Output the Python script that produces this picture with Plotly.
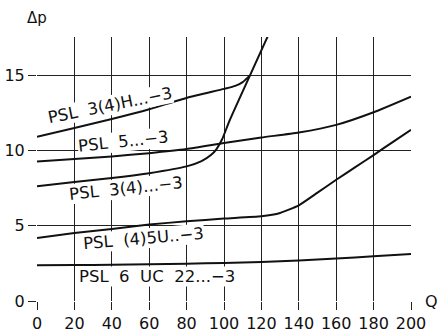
import plotly.graph_objects as go

# flow Q vs pressure drop curves
q_h = [0, 20, 40, 60, 80, 100, 106, 110, 113.9]
dp_h = [10.92, 11.5, 12.1, 12.75, 13.5, 14.1, 14.3, 14.55, 15.0]

q_5 = [0, 20, 40, 60, 80, 100, 120, 140, 160, 180, 200]
dp_5 = [9.28, 9.44, 9.61, 9.83, 10.1, 10.5, 10.87, 11.2, 11.71, 12.55, 13.59]

q_34 = [0, 20, 40, 60, 80, 88, 93, 96, 99, 103, 113.9, 124.5]
dp_34 = [7.62, 7.91, 8.17, 8.5, 8.95, 9.3, 9.7, 10.1, 10.75, 12.0, 15.0, 17.9]

q_45u = [0, 20, 40, 60, 80, 100, 120, 130, 140, 150, 160, 170, 180, 190, 200]
dp_45u = [4.19, 4.52, 4.79, 5.08, 5.3, 5.48, 5.63, 5.85, 6.36, 7.2, 8.06, 8.88, 9.7, 10.55, 11.38]

q_6uc = [0, 20, 40, 60, 80, 100, 120, 140, 160, 180, 200]
dp_6uc = [2.38, 2.39, 2.41, 2.44, 2.48, 2.53, 2.6, 2.69, 2.82, 2.97, 3.13]

labels = ["PSL  3(4)H...−3", "PSL  5...−3", "PSL  3(4)...−3", "PSL  (4)5U..−3", "PSL  6  UC  22...−3"]
label_q = [38.8, 46.2, 47.5, 57.1, 64.4]
label_dp = [13.0, 10.6, 7.47, 4.15, 1.62]
label_angle = [-11.5, -6, -6, -5, 0]

x_ticks = list(range(0, 201, 20))
y_ticks = [0, 5, 10, 15]

FONT = "DejaVu Sans"
INK = "#111"

fig = go.Figure()
for qs, dps in [(q_h, dp_h), (q_5, dp_5), (q_34, dp_34), (q_45u, dp_45u), (q_6uc, dp_6uc)]:
    fig.add_trace(go.Scatter(x=qs, y=dps, mode="lines",
                             line=dict(color=INK, width=2, shape="spline", smoothing=0.5),
                             showlegend=False, hoverinfo="skip"))

for text, q, dp, ang in zip(labels, label_q, label_dp, label_angle):
    fig.add_annotation(x=q, y=dp, text=text, textangle=ang, showarrow=False,
                       bgcolor="white", borderpad=0,
                       font=dict(family=FONT, size=16.5, color=INK))

fig.add_annotation(x=0, y=1, xref="x", yref="paper", text="Δp", showarrow=False,
                   yanchor="bottom", yshift=8, font=dict(family=FONT, size=15, color=INK))
fig.add_annotation(x=1, y=0, xref="paper", yref="y", text="Q", showarrow=False,
                   xanchor="center", xshift=20, font=dict(family=FONT, size=16, color=INK))

axis_common = dict(showgrid=True, gridcolor="#222", gridwidth=1.4, zeroline=False,
                   ticks="outside", ticklen=8, tickwidth=1.4, tickcolor="#222",
                   tickfont=dict(family=FONT, size=16, color=INK), showline=False,
                   automargin=False)
fig.update_xaxes(range=[0, 200], tickvals=x_ticks, **axis_common)
fig.update_yaxes(range=[0, 17.55], tickvals=y_ticks, **axis_common)

fig.update_layout(width=439, height=333, plot_bgcolor="white", paper_bgcolor="white",
                  margin=dict(l=37, r=28, t=37, b=31.5))
# drop the browser's default body margin so the figure fills the window
fig.write_html("out.html", config={"displayModeBar": False},
               post_script="document.body.style.margin='0';")
